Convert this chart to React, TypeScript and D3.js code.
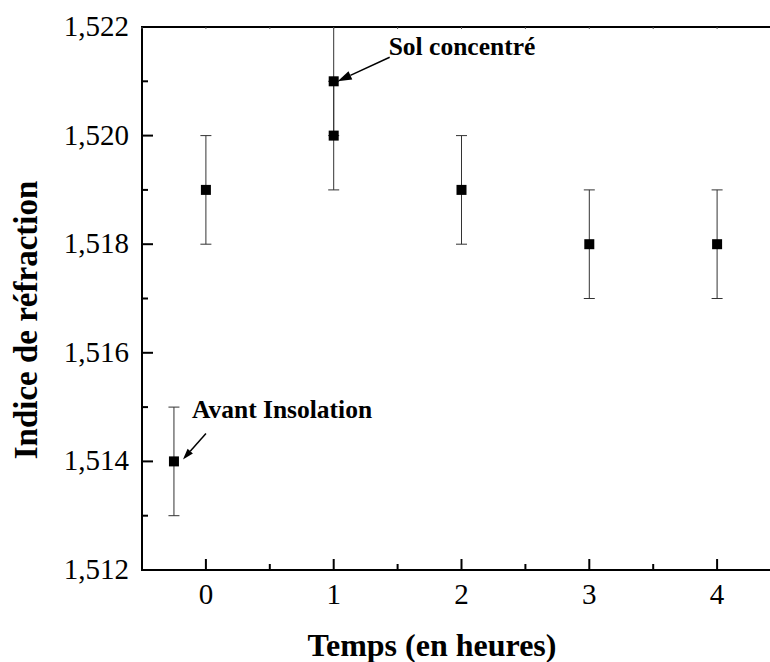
import React from "react";
import * as d3 from "d3";

const times = [-0.25, 0, 1, 1, 2, 3, 4];
const indices = [1.514, 1.519, 1.52, 1.521, 1.519, 1.518, 1.518];
const errors = [0.001, 0.001, 0.001, 0.001, 0.001, 0.001, 0.001];
const xTicks = [0, 1, 2, 3, 4];
const xMinorTicks = [-0.5, 0.5, 1.5, 2.5, 3.5, 4.5];
const yTicks = [1.512, 1.514, 1.516, 1.518, 1.52, 1.522];
const yMinorTicks = [1.513, 1.515, 1.517, 1.519, 1.521];
const xTitle = "Temps (en heures)";
const yTitle = "Indice de réfraction";
const annotations = [
  { label: "Sol concentré", x: 1, y: 1.521, dx: 56, dy: -24, hx: 4, hy: 0, tx: 55, ty: -26, head: 14 },
  { label: "Avant Insolation", x: -0.25, y: 1.514, dx: 32, dy: -28, hx: 9, hy: -2, tx: 18, ty: -43, head: 11 },
];

const W = 770;
const H = 662;
const left = 142;
const right = 781;
const top = 27;
const bottom = 570;
const font = "Liberation Serif";

export default function App() {
  const x = d3.scaleLinear().domain([-0.5, 4.5]).range([left, right]);
  const y = d3.scaleLinear().domain([1.512, 1.522]).range([bottom, top]);
  const fmt = (v: number) => d3.format(".3f")(v).replace(".", ",");
  const clampY = (v: number) => Math.max(top, Math.min(bottom, y(v)));
  const ms = 10;
  const cap = 5.5;

  return (
    <div style={{ position: "absolute", left: 0, top: 0 }}>
      <svg width={W} height={H} style={{ display: "block", background: "#fff" }}>
        {times.map((t, i) => {
          const cx = x(t);
          const y1 = clampY(indices[i] - errors[i]);
          const y2 = clampY(indices[i] + errors[i]);
          return (
            <g key={"e" + i} stroke="#333" strokeWidth={1}>
              <line x1={cx} x2={cx} y1={y1} y2={y2} />
              <line x1={cx - cap} x2={cx + cap} y1={y1} y2={y1} />
              <line x1={cx - cap} x2={cx + cap} y1={y2} y2={y2} />
            </g>
          );
        })}
        {times.map((t, i) => (
          <rect key={"m" + i} x={x(t) - ms / 2} y={y(indices[i]) - ms / 2} width={ms} height={ms} fill="#000" />
        ))}
        <g stroke="#000" strokeWidth={2} fill="none">
          <line x1={left} x2={right} y1={bottom} y2={bottom} />
          <line x1={left} x2={right} y1={top} y2={top} />
          <line x1={left} x2={left} y1={top - 1} y2={bottom + 1} />
          {xTicks.map((t) => (
            <line key={"xt" + t} x1={x(t)} x2={x(t)} y1={bottom} y2={bottom - 11} />
          ))}
          {xMinorTicks.map((t) => (
            <line key={"xm" + t} x1={x(t)} x2={x(t)} y1={bottom} y2={bottom - 6} />
          ))}
          {yTicks.map((t) => (
            <line key={"yt" + t} x1={left} x2={left + 11} y1={y(t)} y2={y(t)} />
          ))}
          {yMinorTicks.map((t) => (
            <line key={"ym" + t} x1={left} x2={left + 6} y1={y(t)} y2={y(t)} />
          ))}
        </g>
        <g stroke="#555" strokeWidth={1}>
          {xTicks.concat(xMinorTicks).map((t) => (
            <line key={"tt" + t} x1={x(t)} x2={x(t)} y1={top} y2={top + 2} />
          ))}
        </g>
        <g fontFamily={font} fontSize={29} fill="#000">
          {xTicks.map((t) => (
            <text key={"xl" + t} x={x(t)} y={604} textAnchor="middle">
              {t}
            </text>
          ))}
          {yTicks.map((t) => (
            <text key={"yl" + t} x={129} y={y(t) + 9} textAnchor="end">
              {fmt(t)}
            </text>
          ))}
        </g>
        <text x={432} y={656} textAnchor="middle" fontFamily={font} fontSize={32} fontWeight="bold">
          {xTitle}
        </text>
        <text
          transform={`translate(37,320) rotate(-90)`}
          textAnchor="middle"
          fontFamily={font}
          fontSize={33}
          fontWeight="bold"
        >
          {yTitle}
        </text>
        {annotations.map((a) => {
          const px = x(a.x);
          const py = y(a.y);
          const x1 = px + a.dx;
          const y1 = py + a.dy;
          const x2 = px + a.hx;
          const y2 = py + a.hy;
          const ang = Math.atan2(y2 - y1, x2 - x1);
          const h = a.head;
          const w = h * 0.32;
          const bx = x2 - h * Math.cos(ang);
          const by = y2 - h * Math.sin(ang);
          const pts = [
            [x2, y2],
            [bx + w * Math.sin(ang), by - w * Math.cos(ang)],
            [bx - w * Math.sin(ang), by + w * Math.cos(ang)],
          ];
          return (
            <g key={a.label}>
              <line x1={x1} y1={y1} x2={bx} y2={by} stroke="#000" strokeWidth={1.5} />
              <polygon points={pts.map((p) => p.join(",")).join(" ")} fill="#000" />
              <text x={px + a.tx} y={py + a.ty} fontFamily={font} fontSize={25.5} fontWeight="bold">
                {a.label}
              </text>
            </g>
          );
        })}
      </svg>
    </div>
  );
}
